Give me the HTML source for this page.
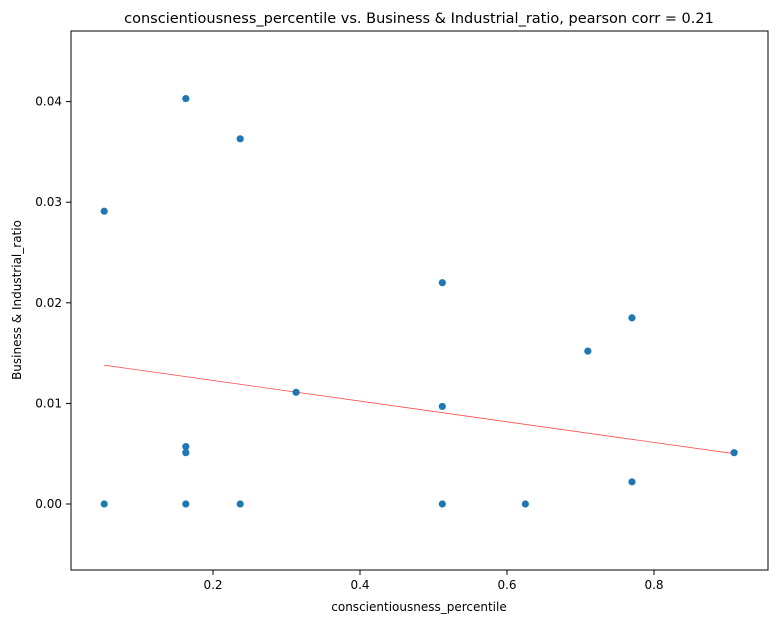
<!DOCTYPE html>
<html><head><meta charset="utf-8"><style>
body{margin:0;background:#fff;font-family:"DejaVu Sans","Liberation Sans",sans-serif;}
svg text{font-family:"DejaVu Sans","Liberation Sans",sans-serif;fill:#000;}
</style></head><body>
<svg id="chart" width="781" height="624" xmlns="http://www.w3.org/2000/svg">
<text x="419" y="23" font-size="14.5" text-anchor="middle">conscientiousness_percentile vs. Business &amp; Industrial_ratio, pearson corr = 0.21</text>
<rect x="71" y="31" width="697" height="539" fill="none" stroke="#000" stroke-width="1"/>
<g id="xt"></g>
<g id="yt"></g>
<text x="419" y="611" font-size="12" text-anchor="middle">conscientiousness_percentile</text>
<text transform="translate(21,300) rotate(-90)" font-size="12" text-anchor="middle">Business &amp; Industrial_ratio</text>
<g id="pts"></g>
</svg>
<script>
const xVals=[0.052,0.052,0.163,0.163,0.163,0.163,0.237,0.237,0.313,0.512,0.512,0.512,0.625,0.71,0.77,0.77,0.909];
const yVals=[0,0.0291,0.0403,0.0057,0.0051,0,0.0363,0,0.0111,0.0220,0.0097,0,0,0.0152,0.0185,0.0022,0.0051];
const xTicks=[0.2,0.4,0.6,0.8];
const yTicks=[0,0.01,0.02,0.03,0.04];
const trendX=[0.052,0.909];
const trendY=[0.0138,0.0050];
const NS="http://www.w3.org/2000/svg";
function sx(v){return 66+v*735;}
function sy(v){return 504-v*10060;}
function mk(t,a,p){const e=document.createElementNS(NS,t);for(const k in a)e.setAttribute(k,a[k]);p.appendChild(e);return e;}
const xt=document.getElementById('xt'),yt=document.getElementById('yt'),pts=document.getElementById('pts');
xTicks.forEach(v=>{
 const l=mk('line',{x1:sx(v),x2:sx(v),y1:570,y2:575,stroke:'#000'},xt);
 
 
 const t=mk('text',{x:sx(v),y:589,'font-size':12,'text-anchor':'middle'},xt);
 
 
 t.textContent=v.toFixed(1);
});
yTicks.forEach(v=>{
 const l=mk('line',{x1:66,x2:71,y1:sy(v),y2:sy(v),stroke:'#000'},yt);
 
 
 const t=mk('text',{x:62,y:sy(v)+4,'font-size':12,'text-anchor':'end'},yt);
 
 
 t.textContent=v.toFixed(2);
});
const tl=mk('line',{x1:sx(trendX[0]),y1:sy(trendY[0]),x2:sx(trendX[1]),y2:sy(trendY[1]),stroke:'#ff4d4d','stroke-width':0.8},pts);


xVals.forEach((x,i)=>{
 const c=mk('circle',{cx:sx(x),cy:sy(yVals[i]),r:3.6,fill:'#1f77b4'},pts);
 
 
});
</script>
</body></html>
